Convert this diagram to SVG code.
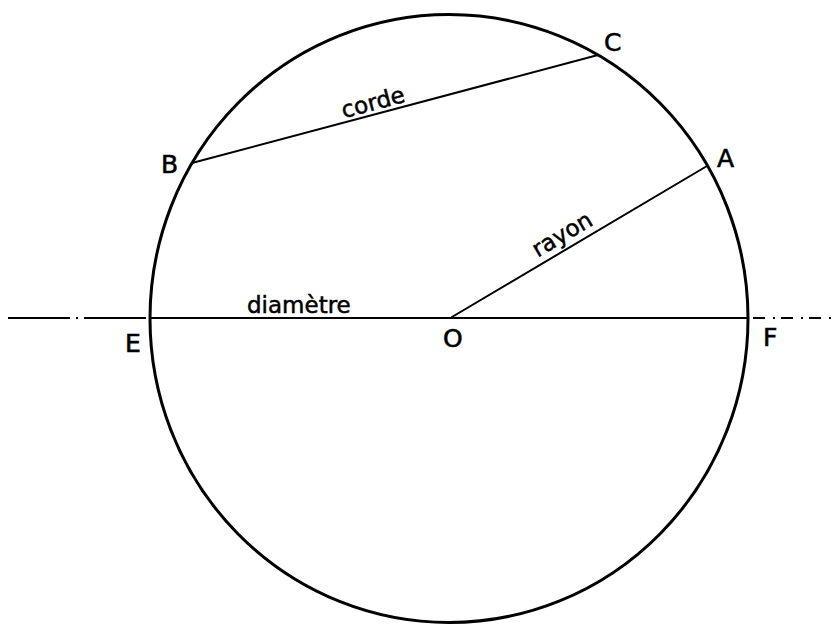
<svg xmlns="http://www.w3.org/2000/svg" width="838" height="625" viewBox="0 0 838 625">
<style>
.lbl{font-family:"DejaVu Sans","Liberation Sans",sans-serif;font-size:25px;fill:#000;stroke:#000;stroke-width:0.6}
.word{font-family:"DejaVu Sans","Liberation Sans",sans-serif;font-size:23px;fill:#000;stroke:#000;stroke-width:0.5}
.ln{stroke:#000;stroke-width:2;fill:none;stroke-linecap:round}
.axis{stroke:#000;stroke-width:2;fill:none;stroke-dasharray:62 6 2 6}
</style>
<rect width="838" height="625" fill="#fff"/>
<g id="circle">
<ellipse cx="449" cy="318.5" rx="299" ry="304" fill="none" stroke="#000" stroke-width="3"/>
</g>
<g id="connectors">
<line class="axis" x1="8" y1="318" x2="150" y2="318"/>
<line class="ln" x1="150" y1="318" x2="748" y2="318"/>
<line class="axis" x1="753" y1="318" x2="836" y2="318" style="stroke-dasharray:12 8 2 6"/>
<line class="ln" x1="192" y1="163" x2="598" y2="55"/>
<line class="ln" x1="452" y1="317" x2="707" y2="166"/>
</g>
<g id="labels">
<text class="lbl" x="161" y="173">B</text>
<text class="lbl" x="604" y="51">C</text>
<text class="lbl" x="717" y="167">A</text>
<text class="lbl" x="125" y="352">E</text>
<text class="lbl" x="443" y="347">O</text>
<text class="lbl" x="763" y="346">F</text>
<text class="word" x="247" y="313">diamètre</text>
<text class="word" transform="translate(375,110) rotate(-14.9)" text-anchor="middle">corde</text>
<text class="word" transform="translate(566,241) rotate(-30.6)" text-anchor="middle">rayon</text>
</g>
</svg>
